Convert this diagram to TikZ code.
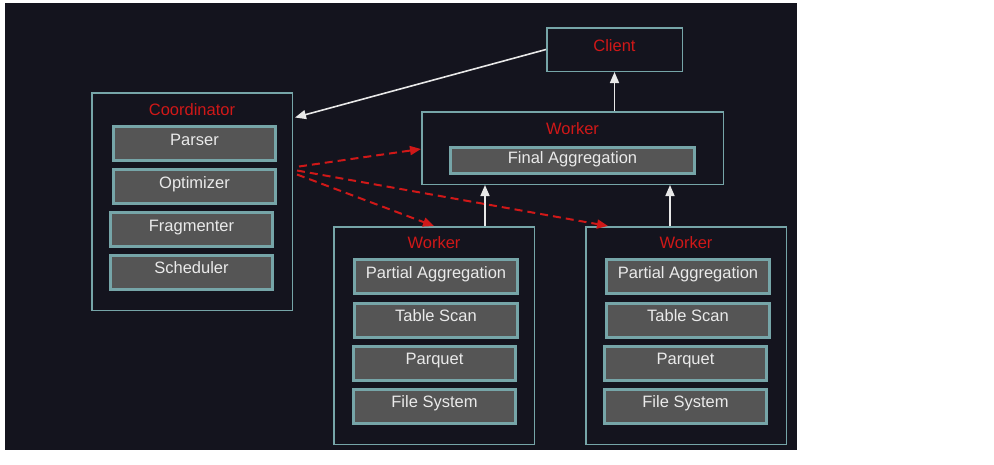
\documentclass[tikz,border=0pt]{standalone}
\usepackage{fontspec}
\setmainfont{Liberation Sans}
\usetikzlibrary{arrows.meta,calc}
\definecolor{bgc}{HTML}{14141E}
\definecolor{tealc}{HTML}{76A5A8}
\definecolor{grayc}{HTML}{555555}
\definecolor{txtc}{HTML}{EAEAEA}
\definecolor{redc}{HTML}{D01818}
\definecolor{arrc}{HTML}{E8E8E8}
\tikzset{
  outerbox/.style={draw=tealc, line width=1.5pt, fill=bgc, inner sep=0pt},
  innerbox/.style={draw=tealc, line width=3pt, fill=grayc, inner sep=0pt,
    text=txtc, font=\fontsize{16.5}{20}\selectfont, text height=12pt, text depth=9pt},
  boxlabel/.style={text=redc, font=\fontsize{16.5}{20}\selectfont, inner sep=0pt},
  whitearrow/.style={draw=arrc, line width=1.6pt, -{Triangle[length=11pt,width=9pt]}},
  redarrow/.style={draw=redc, line width=2pt, dash pattern=on 8pt off 5pt,
    -{Triangle[length=11pt,width=9pt]}},
}
\begin{document}
\begin{tikzpicture}[x=1pt,y=-1pt]
\useasboundingbox (0,0) rectangle (994,464);
\fill[white] (0,0) rectangle (994,464);
\fill[bgc] (5,3) rectangle (797,450);

% Client
\node[outerbox, minimum width=135.5pt, minimum height=43.5pt] (client) at (614.5,49.5) {};
\node[boxlabel] (clientlbl) at (614.5,46) {Client};

% Coordinator
\node[outerbox, minimum width=200.5pt, minimum height=217.5pt] (coord) at (192,201.5) {};
\node[boxlabel] (coordlbl) at (192,110) {Coordinator};
\node[innerbox, minimum width=162pt, minimum height=34pt] (parser) at (194.5,143.5) {Parser};
\node[innerbox, minimum width=162pt, minimum height=34pt] (optim) at (194.5,186.5) {Optimizer};
\node[innerbox, minimum width=162pt, minimum height=34pt] (frag) at (191.5,229.5) {Fragmenter};
\node[innerbox, minimum width=162pt, minimum height=34pt] (sched) at (191.5,272) {Scheduler};

% Top worker
\node[outerbox, minimum width=301.5pt, minimum height=72.5pt] (wtop) at (572.5,148) {};
\node[boxlabel] (wtoplbl) at (572.5,129) {Worker};
\node[innerbox, minimum width=244pt, minimum height=26pt, text depth=7pt] (final) at (572.5,160.5) {Final Aggregation};

% Bottom left worker
\node[outerbox, minimum width=200.5pt, minimum height=217.5pt] (wl) at (434,335.5) {};
\node[boxlabel] (wllbl) at (434,243) {Worker};
\node[innerbox, minimum width=163pt, minimum height=34pt] (lpa) at (436,276.5) {Partial Aggregation};
\node[innerbox, minimum width=163pt, minimum height=34pt] (lts) at (436,320) {Table Scan};
\node[innerbox, minimum width=162pt, minimum height=34pt] (lpq) at (434.5,363) {Parquet};
\node[innerbox, minimum width=162pt, minimum height=34pt] (lfs) at (434.5,406) {File System};

% Bottom right worker
\node[outerbox, minimum width=200.5pt, minimum height=217.5pt] (wr) at (686,335.5) {};
\node[boxlabel] (wrlbl) at (686,243) {Worker};
\node[innerbox, minimum width=163pt, minimum height=34pt] (rpa) at (688,276.5) {Partial Aggregation};
\node[innerbox, minimum width=163pt, minimum height=34pt] (rts) at (688,320) {Table Scan};
\node[innerbox, minimum width=162pt, minimum height=34pt] (rpq) at (685.5,363) {Parquet};
\node[innerbox, minimum width=162pt, minimum height=34pt] (rfs) at (685.5,406) {File System};

% White arrows
\draw[whitearrow] (client.west) -- ([xshift=2pt,yshift=84pt]coord.east);
\draw[whitearrow] (wtop.north -| client.south) -- (client.south);
\draw[whitearrow] ([xshift=51pt]wl.north) -- ([xshift=51pt]wl.north |- wtop.south);
\draw[whitearrow] ([xshift=-16pt]wr.north) -- ([xshift=-16pt]wr.north |- wtop.south);

% Red dashed arrows
\draw[redarrow] ([xshift=6pt,yshift=35pt]coord.east) -- ([yshift=-1pt]wtop.west);
\draw[redarrow] ([xshift=4pt,yshift=27pt]coord.east) -- (wl.north);
\draw[redarrow] ([xshift=4pt,yshift=31pt]coord.east) -- ([xshift=23pt]wr.north west);
\end{tikzpicture}
\end{document}
